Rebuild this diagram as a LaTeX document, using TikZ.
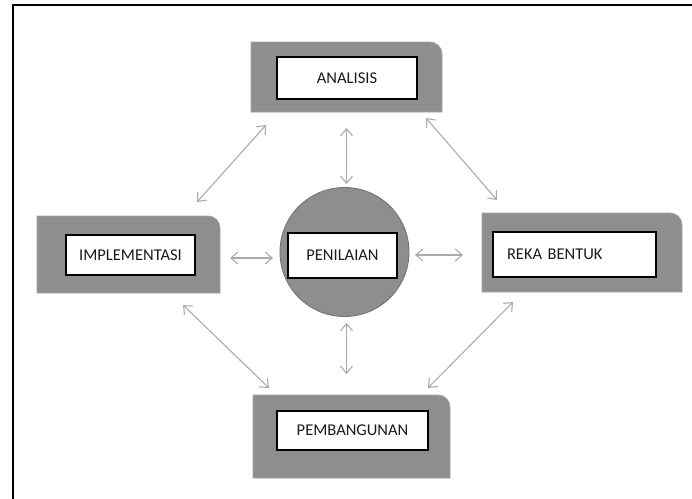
\documentclass[tikz,border=0pt]{standalone}
\usepackage{fontspec}
\setmainfont{Carlito}
\usetikzlibrary{arrows.meta}
\definecolor{boxgray}{HTML}{8E8E8E}
\definecolor{edgegray}{HTML}{A3A3A3}
\definecolor{arrowgray}{HTML}{ABABAB}
\definecolor{txt}{HTML}{1A1A1A}
\tikzset{
  tabbox/.style={fill=boxgray, draw=edgegray, line width=0.8pt},
  label box/.style={draw=black, fill=white, line width=1.3pt, inner sep=0pt,
    font=\fontsize{16.5}{19}\selectfont, text=txt},
  biarrow/.style={draw=arrowgray, line width=1.1pt,
    {Straight Barb[length=7pt,width=12pt,line width=1.1pt]}-{Straight Barb[length=7pt,width=12pt,line width=1.1pt]}}
}
\newcommand{\tabshape}[4]{% x1,y1(top),x2,y2(bottom)
  \path[tabbox] (#1,#4) -- (#1,#2) -- ({#3-12},#2) arc[start angle=-90,end angle=0,radius=12] -- (#3,#4) -- cycle;}
\begin{document}
\begin{tikzpicture}[x=1pt,y=-1pt]
\useasboundingbox (0,0) rectangle (692,498);
% frame
\draw[line width=2pt, line cap=rect] (13,498) -- (13,5) -- (692,5);

% gray tab shapes
\tabshape{251}{42}{442}{112}
\tabshape{37}{216}{220}{293}
\tabshape{482}{213}{682}{292}
\tabshape{253}{395}{450}{478}

% circle
\node[circle, fill=boxgray, draw=gray!110, line width=0.9pt, minimum size=129pt, inner sep=0pt] (circ) at (344.5,252) {};

% white labelled boxes
\node[label box, minimum width=140pt, minimum height=42pt] (ana) at (347,78) {ANALISIS};
\node[label box, minimum width=129pt, minimum height=40pt] (imp) at (130.5,255) {IMPLEMENTASI};
\node[label box, minimum width=163pt, minimum height=45pt, text width=135pt, align=left] (reka) at (574.5,254.5) {REKA BENTUK};
\node[label box, minimum width=151pt, minimum height=39pt] (pem) at (352.5,430.5) {PEMBANGUNAN};
\node[label box, minimum width=109pt, minimum height=45pt] (pen) at (342.5,255.5) {PENILAIAN};

% arrow end points
\coordinate (a1) at (266,125); \coordinate (i1) at (197,202);
\coordinate (a2) at (426,118); \coordinate (r1) at (497,200);
\coordinate (i2) at (183,305); \coordinate (p1) at (269,388);
\coordinate (r2) at (513,302); \coordinate (p2) at (428,388);
\coordinate (a3) at (346.5,128); \coordinate (c1) at (346.5,184);
\coordinate (c2) at (346.5,323); \coordinate (p3) at (346.5,374);
\coordinate (i3) at (230,258); \coordinate (c3) at (273,258);
\coordinate (c4) at (415,255); \coordinate (r3) at (463,255);

\draw[biarrow] (a1) -- (i1);
\draw[biarrow] (a2) -- (r1);
\draw[biarrow] (i2) -- (p1);
\draw[biarrow] (r2) -- (p2);
\draw[biarrow] (a3) -- (c1);
\draw[biarrow] (c2) -- (p3);
\draw[biarrow] (i3) -- (c3);
\draw[biarrow] (c4) -- (r3);
\end{tikzpicture}
\end{document}
